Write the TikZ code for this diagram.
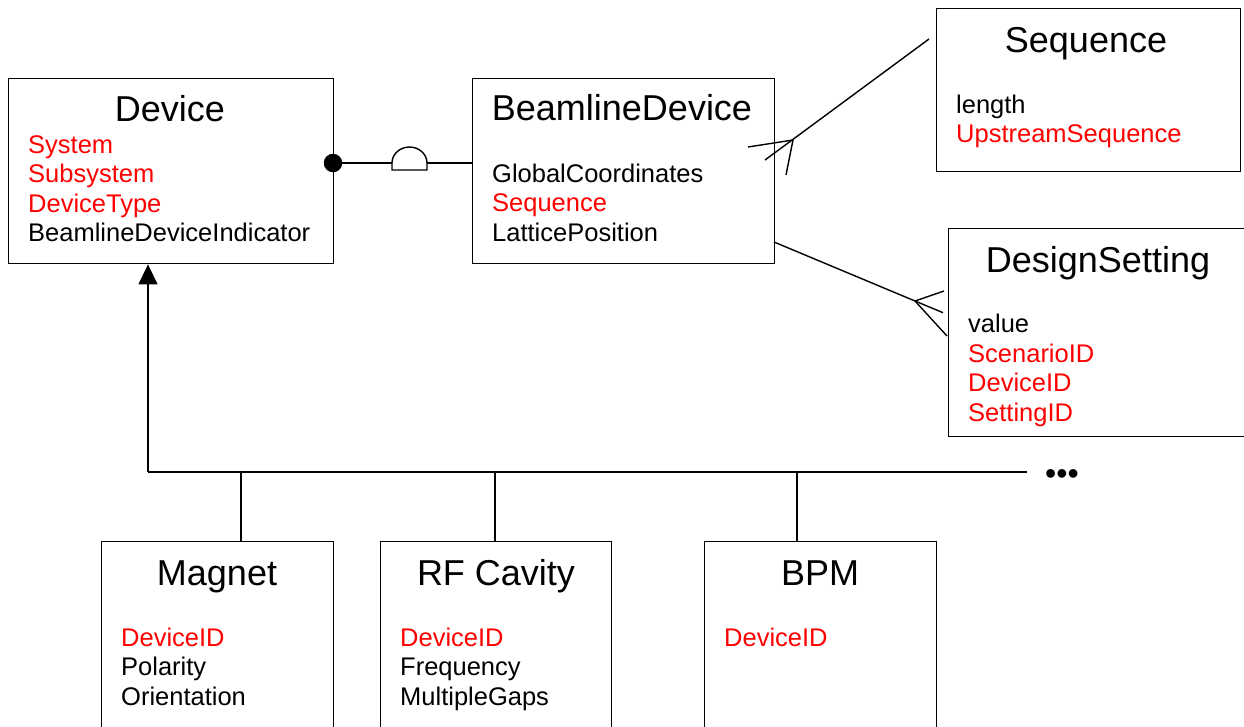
\documentclass[tikz,border=0pt]{standalone}
\usepackage{fontspec}
\setmainfont{Liberation Sans}
\usetikzlibrary{arrows.meta}
\usetikzlibrary{calc}

\tikzset{
    entity/.style={draw, line width=1.4pt, anchor=north west, inner sep=0pt},
    title/.style={font=\fontsize{36}{40}\selectfont, anchor=base, inner sep=0pt},
    attr/.style={font=\fontsize{25.5}{30}\selectfont, anchor=base west, inner sep=0pt},
    key/.style={attr, text=red},
    link/.style={line width=1.4pt},
}

\begin{document}
\begin{tikzpicture}[x=1pt,y=-1pt]
    \useasboundingbox (0,0) rectangle (1244,726);

    % the entities
    \node[entity, minimum width=325pt, minimum height=185pt] (dev) at (8,78) {};
    \node[entity, minimum width=302pt, minimum height=185pt] (bld) at (472,78) {};
    \node[entity, minimum width=304pt, minimum height=163pt] (seq) at (936,8) {};
    \node[entity, minimum width=320pt, minimum height=208pt] (ds) at (948,228) {};
    \node[entity, minimum width=232pt, minimum height=220pt] (mag) at (101,541) {};
    \node[entity, minimum width=231pt, minimum height=220pt] (rf) at (380,541) {};
    \node[entity, minimum width=232pt, minimum height=220pt] (bpm) at (704,541) {};

    \node[title] (dev-t) at (170,121) {Device};
    \node[title] (bld-t) at (622,120) {BeamlineDevice};
    \node[title] (seq-t) at (1086,52) {Sequence};
    \node[title] (ds-t) at (1098,272) {DesignSetting};
    \node[title] (mag-t) at (217,585) {Magnet};
    \node[title] (rf-t) at (496,585) {RF Cavity};
    \node[title] (bpm-t) at (820,585) {BPM};

    \foreach \a/\s [count=\i from 0] in {System/key, Subsystem/key, DeviceType/key, BeamlineDeviceIndicator/attr}
        \node[\s] (dev-\i) at (28,153+29.6*\i) {\a};
    \foreach \a/\s [count=\i from 0] in {GlobalCoordinates/attr, Sequence/key, LatticePosition/attr}
        \node[\s] (bld-\i) at (492,182+29.5*\i) {\a};
    \foreach \a/\s [count=\i from 0] in {length/attr, UpstreamSequence/key}
        \node[\s] (seq-\i) at (956,113+29.5*\i) {\a};
    \foreach \a/\s [count=\i from 0] in {value/attr, ScenarioID/key, DeviceID/key, SettingID/key}
        \node[\s] (ds-\i) at (968,332.5+29.5*\i) {\a};
    \foreach \a/\s [count=\i from 0] in {DeviceID/key, Polarity/attr, Orientation/attr}
        \node[\s] (mag-\i) at (121,646+29.5*\i) {\a};
    \foreach \a/\s [count=\i from 0] in {DeviceID/key, Frequency/attr, MultipleGaps/attr}
        \node[\s] (rf-\i) at (400,646+29.5*\i) {\a};
    \node[key] (bpm-0) at (724,646) {DeviceID};

    % device -- beamline device
    \node[circle, fill, inner sep=0pt, minimum size=18.5pt] (dot) at (333,163) {};
    \draw[link] (dot.center) -- (dot.center -| bld.west);
    \draw[link, fill=white] (392,170) -- (392,163)
        arc[start angle=180, end angle=0, x radius=17.5pt, y radius=16pt] -- (427,170) -- cycle;

    % beamline device -- sequence
    \coordinate (seq-end) at (929,39);
    \coordinate (bld-end) at (765,160);
    \coordinate (seq-foot) at (793,140);
    \draw[link] (seq-end) -- (bld-end);
    \draw[link] (seq-foot) -- ++(-45,7) (seq-foot) -- ++(-7,35);

    % beamline device -- design setting
    \coordinate (bld-out) at (774,242);
    \coordinate (ds-foot) at (915,301);
    \draw[link] (bld-out) -- (ds-foot) -- ++(28,11.7);
    \draw[link] (ds-foot) -- ++(29,-10) (ds-foot) -- ++(32,35);

    % inheritance
    \coordinate (bus-w) at (148,472);
    \coordinate (bus-e) at (1027,472);
    \draw[link, -{Triangle[length=20pt, width=19pt]}] (bus-w) -- (bus-w |- dev.south);
    \draw[link] (bus-w) -- (bus-e);
    \foreach \n/\x in {mag/241, rf/495, bpm/797} {
        \coordinate (drop-\n) at (\x,472);
        \draw[link] (drop-\n) -- (drop-\n |- \n.north);
    }
    \node[font=\fontsize{32}{36}\selectfont, anchor=base west, inner sep=0pt] (more) at (1045,484) {•••};
\end{tikzpicture}
\end{document}
